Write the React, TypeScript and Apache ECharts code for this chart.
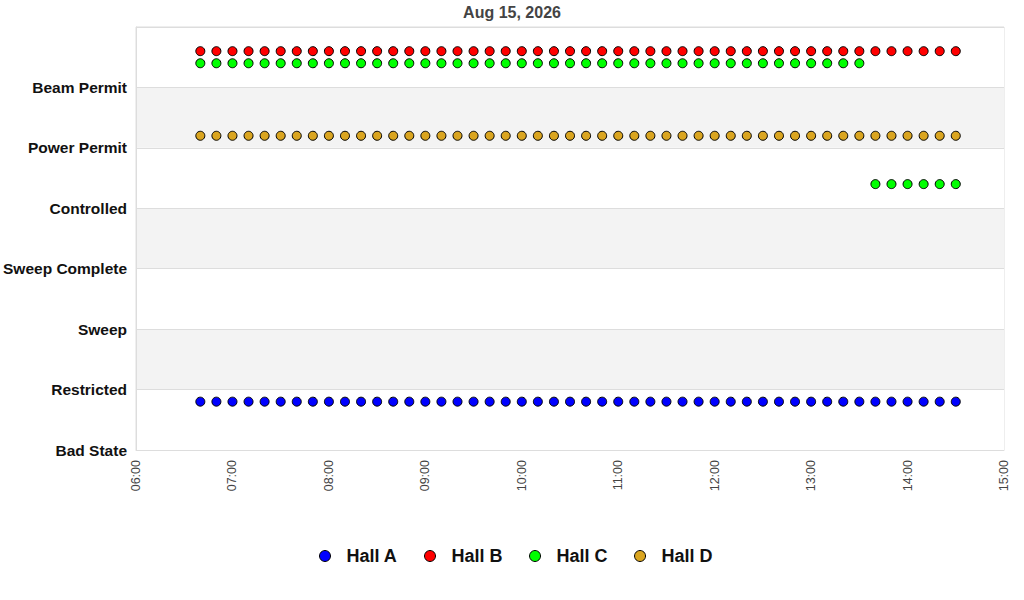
import React, { useEffect, useRef } from "react";
import * as echarts from "echarts";

const TITLE = "Aug 15, 2026";
const STATES = ["Bad State", "Restricted", "Sweep", "Sweep Complete", "Controlled", "Power Permit", "Beam Permit"];
const X_TICKS = ["06:00", "07:00", "08:00", "09:00", "10:00", "11:00", "12:00", "13:00", "14:00", "15:00"];

const TIMES = [
  "06:40", "06:50", "07:00", "07:10", "07:20", "07:30", "07:40", "07:50",
  "08:00", "08:10", "08:20", "08:30", "08:40", "08:50", "09:00", "09:10",
  "09:20", "09:30", "09:40", "09:50", "10:00", "10:10", "10:20", "10:30",
  "10:40", "10:50", "11:00", "11:10", "11:20", "11:30", "11:40", "11:50",
  "12:00", "12:10", "12:20", "12:30", "12:40", "12:50", "13:00", "13:10",
  "13:20", "13:30", "13:40", "13:50", "14:00", "14:10", "14:20", "14:30",
];

const HALL_A = [
  0.8, 0.8, 0.8, 0.8, 0.8, 0.8, 0.8, 0.8, 0.8, 0.8, 0.8, 0.8, 0.8, 0.8, 0.8, 0.8,
  0.8, 0.8, 0.8, 0.8, 0.8, 0.8, 0.8, 0.8, 0.8, 0.8, 0.8, 0.8, 0.8, 0.8, 0.8, 0.8,
  0.8, 0.8, 0.8, 0.8, 0.8, 0.8, 0.8, 0.8, 0.8, 0.8, 0.8, 0.8, 0.8, 0.8, 0.8, 0.8,
];
const HALL_B = [
  6.6, 6.6, 6.6, 6.6, 6.6, 6.6, 6.6, 6.6, 6.6, 6.6, 6.6, 6.6, 6.6, 6.6, 6.6, 6.6,
  6.6, 6.6, 6.6, 6.6, 6.6, 6.6, 6.6, 6.6, 6.6, 6.6, 6.6, 6.6, 6.6, 6.6, 6.6, 6.6,
  6.6, 6.6, 6.6, 6.6, 6.6, 6.6, 6.6, 6.6, 6.6, 6.6, 6.6, 6.6, 6.6, 6.6, 6.6, 6.6,
];
const HALL_C = [
  6.4, 6.4, 6.4, 6.4, 6.4, 6.4, 6.4, 6.4, 6.4, 6.4, 6.4, 6.4, 6.4, 6.4, 6.4, 6.4,
  6.4, 6.4, 6.4, 6.4, 6.4, 6.4, 6.4, 6.4, 6.4, 6.4, 6.4, 6.4, 6.4, 6.4, 6.4, 6.4,
  6.4, 6.4, 6.4, 6.4, 6.4, 6.4, 6.4, 6.4, 6.4, 6.4, 4.4, 4.4, 4.4, 4.4, 4.4, 4.4,
];
const HALL_D = [
  5.2, 5.2, 5.2, 5.2, 5.2, 5.2, 5.2, 5.2, 5.2, 5.2, 5.2, 5.2, 5.2, 5.2, 5.2, 5.2,
  5.2, 5.2, 5.2, 5.2, 5.2, 5.2, 5.2, 5.2, 5.2, 5.2, 5.2, 5.2, 5.2, 5.2, 5.2, 5.2,
  5.2, 5.2, 5.2, 5.2, 5.2, 5.2, 5.2, 5.2, 5.2, 5.2, 5.2, 5.2, 5.2, 5.2, 5.2, 5.2,
];

const SERIES = [
  { name: "Hall A", color: "#0000ff", values: HALL_A },
  { name: "Hall B", color: "#ff0000", values: HALL_B },
  { name: "Hall C", color: "#00ff00", values: HALL_C },
  { name: "Hall D", color: "#daa520", values: HALL_D },
];

const FONT = "'Liberation Sans', Arial, sans-serif";

function toHours(t: string): number {
  const [h, m] = t.split(":").map(Number);
  return h + m / 60;
}

export default function App() {
  const ref = useRef<HTMLDivElement>(null);

  useEffect(() => {
    if (!ref.current) return;
    const chart = echarts.init(ref.current, undefined, { renderer: "svg" });
    const xMin = toHours(X_TICKS[0]);
    const xMax = toHours(X_TICKS[X_TICKS.length - 1]);
    chart.setOption({
      animation: false,
      backgroundColor: "#ffffff",
      title: {
        text: TITLE,
        left: "center",
        top: -1,
        textStyle: { fontFamily: FONT, fontSize: 16, fontWeight: "bold", color: "#444444" },
      },
      grid: {
        left: 136,
        right: 20,
        top: 27,
        bottom: 150,
        show: true,
        borderColor: "#dddddd",
        borderWidth: 1,
        backgroundColor: "transparent",
      },
      legend: {
        bottom: 30,
        left: 314,
        icon: "circle",
        itemWidth: 11,
        itemHeight: 11,
        itemGap: 26.5,
        itemStyle: { borderColor: "#000000", borderWidth: 1 },
        textStyle: {
          fontFamily: FONT,
          fontSize: 18,
          fontWeight: "bold",
          color: "#111111",
          padding: [0, 0, 0, 11],
        },
        data: SERIES.map((s) => s.name),
      },
      xAxis: {
        type: "value",
        min: xMin,
        max: xMax,
        interval: 1,
        axisLine: { show: true, lineStyle: { color: "#dddddd" } },
        axisTick: { show: false },
        splitLine: { show: false },
        axisLabel: {
          rotate: 90,
          margin: 10,
          fontFamily: FONT,
          fontSize: 12.5,
          color: "#444444",
          formatter: (v: number) => X_TICKS[Math.round(v - xMin)] ?? "",
        },
      },
      yAxis: {
        type: "value",
        min: 0,
        max: STATES.length,
        interval: 1,
        axisLine: { show: true, lineStyle: { color: "#dddddd" } },
        axisTick: { show: false },
        splitLine: { show: true, lineStyle: { color: "#dddddd" } },
        splitArea: { show: true, areaStyle: { color: ["#ffffff", "#f3f3f3"] } },
        axisLabel: {
          margin: 9,
          fontFamily: FONT,
          fontSize: 15.5,
          fontWeight: "bold",
          color: "#111111",
          formatter: (v: number) => STATES[Math.round(v)] ?? "",
        },
      },
      series: SERIES.map((s) => ({
        name: s.name,
        type: "scatter",
        symbol: "circle",
        symbolSize: 9,
        itemStyle: { color: s.color, borderColor: "#000000", borderWidth: 1, opacity: 1 },
        data: TIMES.map((t, i) => [toHours(t), s.values[i]]),
      })),
    });
    return () => chart.dispose();
  }, []);

  return <div ref={ref} style={{ width: 1024, height: 600, position: "absolute", left: 0, top: 0 }} />;
}
